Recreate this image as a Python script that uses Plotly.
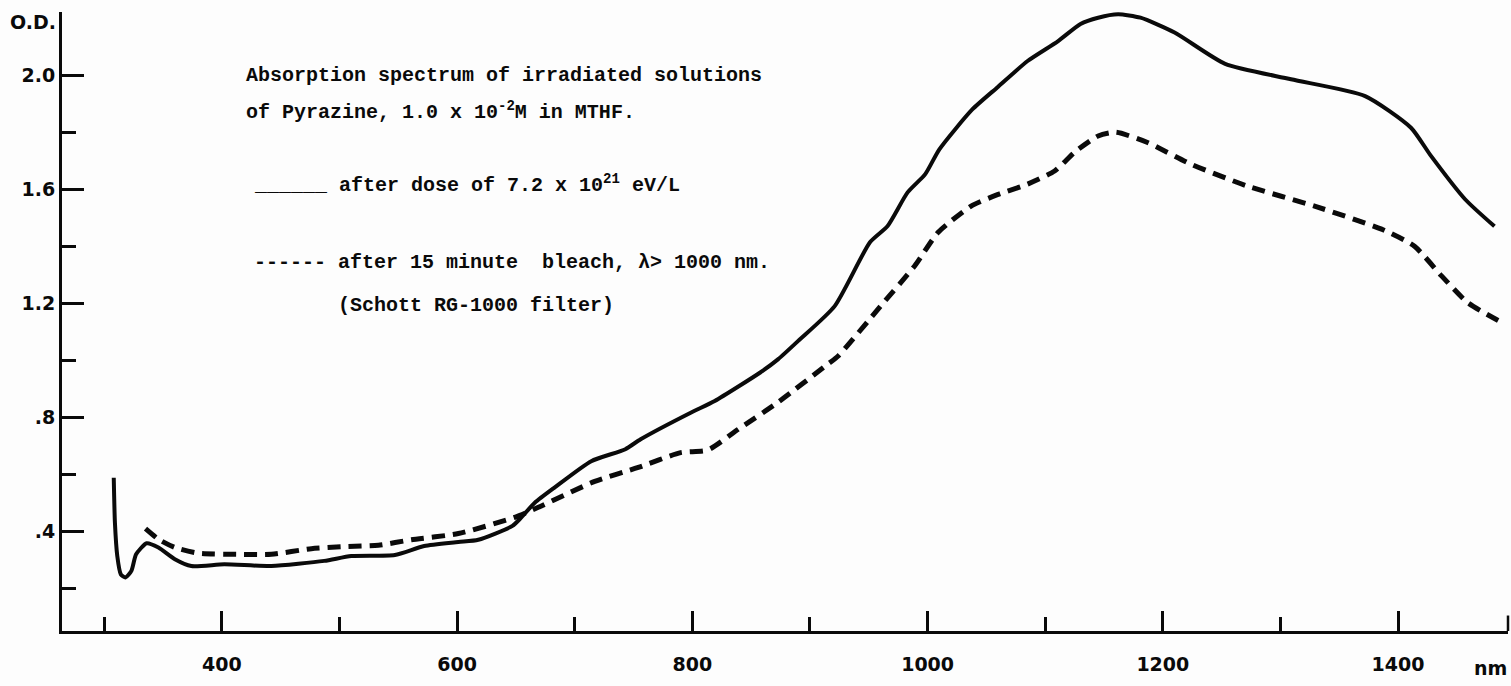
import plotly.graph_objects as go

# ---- data ----
solid_nm = [308, 309, 311, 314, 318, 323, 327, 336, 346, 360, 374, 402, 442, 487, 510, 547, 572,
            601, 618, 647, 654, 666, 683, 714, 743, 756, 799, 819, 858, 873, 890, 921, 951, 966,
            983, 998, 1010, 1038, 1060, 1085, 1111, 1130, 1145, 1162, 1181, 1210, 1253, 1309,
            1372, 1411, 1428, 1457, 1482]
solid_od = [0.588, 0.43, 0.313, 0.249, 0.238, 0.261, 0.319, 0.358, 0.343, 0.302, 0.278, 0.284,
            0.278, 0.296, 0.313, 0.317, 0.348, 0.362, 0.370, 0.419, 0.446, 0.50, 0.554, 0.646,
            0.688, 0.723, 0.817, 0.857, 0.958, 1.004, 1.068, 1.19, 1.414, 1.471, 1.589, 1.653,
            1.74, 1.88, 1.96, 2.05, 2.12, 2.18, 2.202, 2.214, 2.202, 2.15, 2.04, 1.986, 1.927,
            1.816, 1.717, 1.565, 1.47]

dash_nm = [335, 346, 360, 380, 416, 442, 476, 504, 533, 561, 601, 649, 669, 717, 754, 790, 813,
           839, 873, 915, 924, 960, 989, 1009, 1037, 1060, 1085, 1108, 1125, 1145, 1160, 1187,
           1224, 1272, 1329, 1386, 1414, 1437, 1459, 1488]
dash_od = [0.409, 0.372, 0.343, 0.323, 0.319, 0.319, 0.339, 0.346, 0.351, 0.37, 0.392, 0.449,
           0.484, 0.575, 0.624, 0.676, 0.685, 0.758, 0.853, 0.986, 1.015, 1.19, 1.331, 1.449,
           1.541, 1.582, 1.618, 1.664, 1.73, 1.787, 1.80, 1.764, 1.688, 1.611, 1.541, 1.46,
           1.40, 1.296, 1.203, 1.133]

x_major = [400, 600, 800, 1000, 1200, 1400]
x_major_text = ["400", "600", "800", "1000", "1200", "1400"]
x_minor = [300, 500, 700, 900, 1100, 1300]
y_major = [0.4, 0.8, 1.2, 1.6, 2.0]
y_major_text = [".4", ".8", "1.2", "1.6", "2.0"]
y_minor = [0.2, 0.6, 1.0, 1.4, 1.8]

# ---- layout geometry ----
W, H = 1511, 686
ML, MR, MT, MB = 62, 3, 12, 55
PW, PH = W - ML - MR, H - MT - MB


def px(xp):
    return (xp - ML) / PW


def py(yp):
    return (H - MB - yp) / PH


INK = "#0a0a0a"
TICKFONT = dict(family="DejaVu Sans", size=19, color=INK, weight="bold")
TS = 20
TYPE = dict(family="Liberation Mono", size=TS, color=INK, weight="bold")
PITCH = 0.6 * TS

fig = go.Figure()
fig.add_trace(go.Scatter(x=solid_nm, y=solid_od, mode="lines",
                         line=dict(color=INK, width=4, shape="spline", smoothing=0.6),
                         showlegend=False, hoverinfo="skip"))
fig.add_trace(go.Scatter(x=dash_nm, y=dash_od, mode="lines",
                         line=dict(color=INK, width=5, dash="13px,8px", shape="spline", smoothing=0.6),
                         showlegend=False, hoverinfo="skip"))

fig.update_xaxes(range=[264, 1493.5], showline=True, linewidth=3, linecolor=INK,
                 showgrid=False, zeroline=False, ticks="inside", ticklen=20, tickwidth=2.5,
                 tickcolor=INK, tickvals=x_major, ticktext=x_major_text, tickfont=TICKFONT,
                 ticklabelstandoff=14,
                 minor=dict(tickvals=x_minor, ticks="inside", ticklen=14, tickwidth=2.5,
                            tickcolor=INK, showgrid=False))
fig.update_yaxes(range=[0.05, 2.222], showline=True, linewidth=3, linecolor=INK,
                 showgrid=False, zeroline=False, ticks="inside", ticklen=22, tickwidth=3,
                 tickcolor=INK, tickvals=y_major, ticktext=y_major_text, tickfont=TICKFONT,
                 ticklabelstandoff=0,
                 minor=dict(tickvals=y_minor, ticks="inside", ticklen=14, tickwidth=3,
                            tickcolor=INK, showgrid=False))

# typed legend block (y given as text centre in pixels; anchored at the bottom so that
# superscripts do not shift the baseline)
annos = [
    ("Absorption spectrum of irradiated solutions", 244, 75),
    ("of Pyrazine, 1.0 x 10<sup>-2</sup>M in MTHF.", 244, 112),
    ("______ after dose of 7.2 x 10<sup>21</sup> eV/L", 252, 185),
    ("------ after 15 minute\u00a0 bleach, \u03bb> 1000 nm.", 252, 262),
    ("(Schott RG-1000 filter)", 252 + 7 * PITCH, 305),
]
for txt, xp, yp in annos:
    fig.add_annotation(text=txt, x=px(xp), y=py(yp + 0.65 * TS + 1), xref="paper", yref="paper",
                       xanchor="left", yanchor="bottom", showarrow=False, font=TYPE)

fig.add_annotation(text="O.D.", x=px(58), y=py(22), xref="paper", yref="paper",
                   xanchor="right", yanchor="middle", showarrow=False, font=TICKFONT)
fig.add_annotation(text="nm", x=px(1490), y=py(668), xref="paper", yref="paper",
                   xanchor="center", yanchor="middle", showarrow=False, font=TICKFONT)
# small upturn at the right end of the x axis
fig.add_shape(type="line", xref="paper", yref="paper", x0=1, x1=1, y0=0, y1=0.025,
              line=dict(color=INK, width=2.5))

fig.update_layout(width=W, height=H, margin=dict(l=ML, r=MR, t=MT, b=MB),
                  paper_bgcolor="#fdfdfd", plot_bgcolor="#fdfdfd")
fig.write_html("out.html")
